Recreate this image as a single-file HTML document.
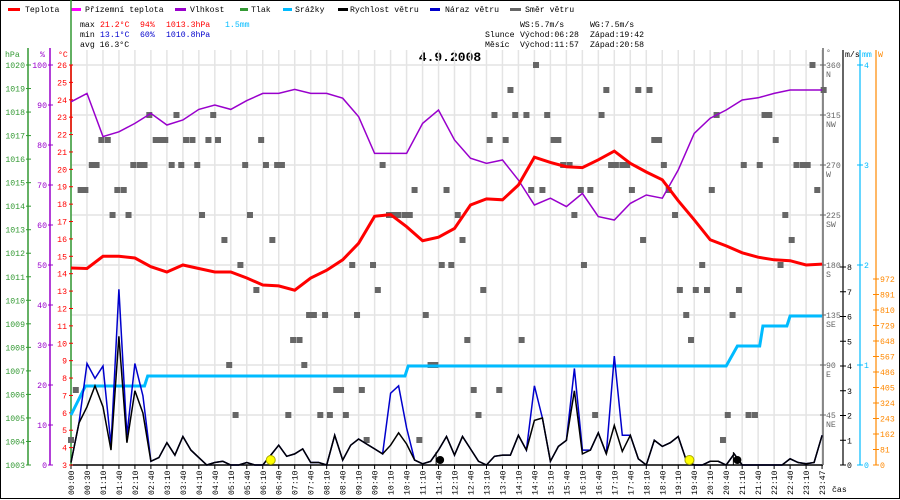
<!DOCTYPE html>
<html><head><meta charset="utf-8"><style>
html,body{margin:0;padding:0;background:#fff}
svg{display:block}
text{font-family:"Liberation Mono",monospace;font-size:8.2px}
</style></head><body>
<svg id="c" width="900" height="500" viewBox="0 0 900 500" xmlns="http://www.w3.org/2000/svg">
<rect x="0.5" y="0.5" width="899" height="498" fill="#fff" stroke="#000"/>
<g id="legend">
 <g><rect x="8" y="8" width="12" height="3" fill="#f00"/><text x="25" y="12">Teplota</text></g>
 <g><rect x="71" y="8" width="10" height="3" fill="#f0f"/><text x="85" y="12">Přízemní teplota</text></g>
 <g><rect x="175" y="8" width="11" height="3" fill="#90c"/><text x="190" y="12">Vlhkost</text></g>
 <g><rect x="240" y="8" width="8" height="3" fill="#393"/><text x="251" y="12">Tlak</text></g>
 <g><rect x="283" y="8" width="9" height="3" fill="#0bf"/><text x="295" y="12">Srážky</text></g>
 <g><rect x="338" y="8" width="10" height="3" fill="#000"/><text x="350" y="12">Rychlost větru</text></g>
 <g><rect x="430" y="8" width="10" height="3" fill="#00c"/><text x="445" y="12">Náraz větru</text></g>
 <g><rect x="510" y="8" width="11" height="3" fill="#666"/><text x="525" y="12">Směr větru</text></g>
</g>
<g>
 <text x="80" y="27">max</text><text x="100" y="27" fill="#f00">21.2°C</text><text x="140" y="27" fill="#f00">94%</text><text x="166" y="27" fill="#f00">1013.3hPa</text><text x="225" y="27" fill="#0bf">1.5mm</text>
 <text x="80" y="37">min</text><text x="100" y="37" fill="#00c">13.1°C</text><text x="140" y="37" fill="#00c">60%</text><text x="166" y="37" fill="#00c">1010.8hPa</text>
 <text x="80" y="47">avg 16.3°C</text>
</g>
<g>
 <text x="520" y="27">WS:5.7m/s</text><text x="590" y="27">WG:7.5m/s</text>
 <text x="485" y="37">Slunce</text><text x="520" y="37">Východ:06:28</text><text x="590" y="37">Západ:19:42</text>
 <text x="485" y="47">Měsíc</text><text x="520" y="47">Východ:11:57</text><text x="590" y="47">Západ:20:58</text>
</g>
<text x="450" y="61" text-anchor="middle" style="font-size:13px;font-weight:bold">4.9.2008</text>
<g id="grid"></g>
<g id="axes"></g>
<g id="series"></g>
</svg>
<script>
const xLabels=["00:00","00:30","01:10","01:40","02:10","02:40","03:10","03:40","04:10","04:40","05:10","05:40","06:10","06:40","07:10","07:40","08:10","08:40","09:10","09:40","10:10","10:40","11:10","11:40","12:10","12:40","13:10","13:40","14:10","14:40","15:10","15:40","16:10","16:40","17:10","17:40","18:10","18:40","19:10","19:40","20:10","20:40","21:10","21:40","22:10","22:40","23:10","23:47"];
const temperature=[14.33,14.3,15.0,15.0,14.9,14.4,14.1,14.5,14.3,14.1,14.1,13.75,13.35,13.3,13.05,13.75,14.2,14.8,15.75,17.3,17.4,16.7,15.9,16.1,16.6,17.95,18.3,18.25,19.1,20.7,20.4,20.15,20.1,20.55,21.05,20.35,19.85,19.4,18.2,17.1,15.95,15.6,15.2,14.95,14.8,14.75,14.5,14.55];
const humidity=[90.8,92.9,82.1,83.3,85.4,87.9,85,86.25,88.9,90,88.9,91.1,92.9,92.9,93.9,92.9,92.9,91.7,87.1,77.9,77.9,77.9,85.4,88.75,81.25,76.7,75.4,76.25,71.25,65,66.7,64.6,67.9,62.1,61.25,65.4,67.5,66.7,73.75,82.9,86.7,88.75,91.25,91.8,92.9,93.75,93.75,93.75];
const windSpeed=[0.1,1.7,2.35,3.2,2.35,0.6,5.2,0.9,3.0,2.1,0.15,0.3,0.9,0.4,1.15,0.6,0.3,0,0.1,0.15,0,0,0.1,0,0,0.4,0.8,0.35,0.45,0.65,0.1,0.1,0,1.2,0.2,0.8,1.05,0.85,0.65,0.45,0.8,1.3,0.85,0.2,0.05,0.15,0.6,1.15,0.4,1.15,0.65,0.15,0,0.35,0.4,0.4,1.2,0.6,1.8,1.9,0.15,0.75,1.0,3.0,0.45,0.6,1.3,0.45,1.6,0.55,1.2,0.25,0,1.0,0.75,0.9,1.15,0.2,0,0,0.15,0.15,0,0.45,0,0,0,0,0,0,0.25,0.1,0.05,0.1,1.2];
const windGust=[0.1,1.7,4.1,3.5,4.0,0.8,7.1,1.2,4.1,2.8,0.15,0.3,0.9,0.4,1.15,0.6,0.3,0,0.1,0.15,0,0,0.1,0,0,0.4,0.8,0.35,0.45,0.65,0.1,0.1,0,1.2,0.2,0.8,1.05,0.85,0.65,0.45,2.9,3.2,1.5,0.2,0.05,0.15,0.6,1.15,0.4,1.15,0.65,0.15,0,0.35,0.4,0.4,1.2,0.6,3.2,1.9,0.15,0.75,1.0,3.9,0.6,0.6,1.3,0.45,4.4,1.2,1.2,0.25,0,1.0,0.75,0.9,1.15,0.2,0,0,0.15,0.15,0,0.45,0,0,0,0,0,0,0.25,0.1,0.05,0.1,1.2];
const precipIdx=[0,0.9,4.6,4.8,20.9,21.1,41.0,41.7,43.1,43.3,44.8,45.0,47];
const precipMm=[0.5,0.79,0.79,0.89,0.89,0.99,0.99,1.19,1.19,1.39,1.39,1.49,1.49];
const dirIdx=[4.9,6.6,8.9,1.9,2.3,5.3,5.6,5.9,7.2,7.6,8.6,9.2,11.9,1.3,1.6,3.9,4.3,4.6,6.3,6.9,7.9,10.9,12.2,12.9,13.2,19.5,0.6,0.9,2.9,3.3,21.5,2.6,3.6,8.2,11.2,19.9,20.2,20.5,20.9,21.2,9.6,12.6,10.6,17.6,18.9,23.2,11.6,19.2,14.9,15.2,15.9,17.9,22.2,13.9,14.3,9.9,14.6,22.5,22.8,0.3,16.6,16.9,18.2,10.3,13.6,15.6,16.2,17.2,0.0,18.5,21.8,29.1,46.4,27.5,33.5,35.5,36.2,47.1,26.5,27.8,28.5,29.8,33.2,40.4,43.4,43.7,26.2,27.2,30.2,30.5,36.5,36.8,44.1,30.8,31.2,33.8,34.1,34.5,34.8,37.1,42.1,43.1,45.4,45.8,46.1,23.5,28.8,29.5,31.9,32.5,35.1,37.4,40.1,46.7,24.2,31.5,37.8,44.7,24.5,35.8,45.1,23.8,32.1,39.5,44.4,25.8,38.1,39.1,39.8,41.8,38.5,41.4,24.8,28.2,38.8,25.2,26.8,25.5,32.8,41.1,42.4,42.8,40.8];
const dirDeg=[315,315,315,292.5,292.5,292.5,292.5,292.5,292.5,292.5,292.5,292.5,292.5,270,270,270,270,270,270,270,270,270,270,270,270,270,247.5,247.5,247.5,247.5,247.5,225,225,225,225,225,225,225,225,225,202.5,202.5,180,180,180,180,157.5,157.5,135,135,135,135,135,112.5,112.5,90,90,90,90,67.5,67.5,67.5,67.5,45,45,45,45,45,22.5,22.5,22.5,360,360,337.5,337.5,337.5,337.5,337.5,315,315,315,315,315,315,315,315,292.5,292.5,292.5,292.5,292.5,292.5,292.5,270,270,270,270,270,270,270,270,270,270,270,270,247.5,247.5,247.5,247.5,247.5,247.5,247.5,247.5,247.5,225,225,225,225,202.5,202.5,202.5,180,180,180,180,157.5,157.5,157.5,157.5,157.5,135,135,112.5,112.5,112.5,67.5,67.5,45,45,45,45,45,22.5];
const sunIdx=[12.5,38.7];
const moonIdx=[23.1,41.7];
const hpaTicks=[1020,1019,1018,1017,1016,1015,1014,1013,1012,1011,1010,1009,1008,1007,1006,1005,1004,1003];
const pctTicks=[100,90,80,70,60,50,40,30,20,10,0];
const tempTicks=[26,25,24,23,22,21,20,19,18,17,16,15,14,13,12,11,10,9,8,7,6,5,4,3];
const dirTicks=[360,315,270,225,180,135,90,45];
const dirNames=["N","NW","W","SW","S","SE","E","NE"];
const msTicks=[0,1,2,3,4,5,6,7,8];
const mmTicks=[0,1,2,3,4];
const wTicks=[0,81,162,243,324,405,486,567,648,729,810,891,972];

const NS="http://www.w3.org/2000/svg";
const TOP=65,BOT=465,X0=71,STEP=15.98;
const xAt=i=>X0+i*STEP;
const yT=v=>TOP+(26-v)*(BOT-TOP)/23;
const yH=v=>BOT-v*4;
const yP=v=>TOP+(1020-v)*(BOT-TOP)/17;
const yDir=v=>BOT-v*200/180;
const yWs=v=>BOT-v*24.75;
const yMm=v=>BOT-v*100;
const yW=v=>BOT-v*186/972;
function mk(tag,attrs,parent,txt){const e=document.createElementNS(NS,tag);for(const k in attrs)e.setAttribute(k,attrs[k]);if(txt!==undefined)e.textContent=txt;parent.appendChild(e);return e;}
const grid=document.getElementById('grid'),axes=document.getElementById('axes'),series=document.getElementById('series');

dirTicks.forEach(d=>{const l=mk('line',{x1:X0,x2:823,y1:yDir(d),y2:yDir(d),stroke:'#e4e4e4','stroke-width':1.5},grid);

});
xLabels.forEach((s,i)=>{const x=xAt(i);
 const l=mk('line',{x1:x,x2:x,y1:50,y2:BOT,stroke:'#e4e4e4','stroke-width':1.5},grid);
 
 
 mk('line',{x1:x,x2:x,y1:BOT,y2:BOT+4,stroke:'#000'},axes);
 const t=mk('text',{x:0,y:0,transform:`translate(${x+3},495) rotate(-90)`},axes,s);
 
 });

mk('line',{x1:28,x2:28,y1:48,y2:BOT,stroke:'#393','stroke-width':1.5},axes);
mk('line',{x1:50,x2:50,y1:48,y2:BOT,stroke:'#90c','stroke-width':1.5},axes);
mk('line',{x1:71,x2:71,y1:0,y2:BOT,stroke:'#393','stroke-width':1.5},axes);
mk('line',{x1:71,x2:71,y1:TOP,y2:132,stroke:'#f00','stroke-width':1.5},axes);
mk('line',{x1:X0,x2:823,y1:BOT,y2:BOT,stroke:'#000','stroke-width':1.5},axes);
mk('text',{x:5,y:57,fill:'#393'},axes,'hPa');
mk('text',{x:40,y:57,fill:'#90c'},axes,'%');
mk('text',{x:58,y:57,fill:'#f00'},axes,'°C');
hpaTicks.forEach(v=>{const y=yP(v);mk('line',{x1:26,x2:31,y1:y,y2:y,stroke:'#393'},axes);
 const t=mk('text',{x:25,y:y+3,'text-anchor':'end',fill:'#393'},axes,v);
 
 });
pctTicks.forEach(v=>{const y=yH(v);mk('line',{x1:48,x2:53,y1:y,y2:y,stroke:'#90c'},axes);
 const t=mk('text',{x:47,y:y+3,'text-anchor':'end',fill:'#90c'},axes,v);
 
 });
tempTicks.forEach(v=>{const y=yT(v);mk('line',{x1:69,x2:73,y1:y,y2:y,stroke:'#f00'},axes);
 const t=mk('text',{x:67,y:y+3,'text-anchor':'end',fill:'#f00'},axes,v);
 
 });

mk('line',{x1:823,x2:823,y1:48,y2:BOT,stroke:'#666','stroke-width':1.5},axes);
mk('line',{x1:843,x2:843,y1:50,y2:BOT,stroke:'#000','stroke-width':1.2},axes);
mk('line',{x1:860,x2:860,y1:50,y2:BOT,stroke:'#0bf','stroke-width':1.2},axes);
mk('line',{x1:876,x2:876,y1:50,y2:BOT,stroke:'#f80','stroke-width':1.2},axes);
mk('text',{x:826,y:55,fill:'#666'},axes,'°');
mk('text',{x:845,y:57},axes,'m/s');
mk('text',{x:862,y:57,fill:'#0bf'},axes,'mm');
mk('text',{x:878,y:57,fill:'#f80'},axes,'W');
mk('text',{x:832,y:492},axes,'čas');
dirTicks.forEach((v,k)=>{const y=yDir(v);mk('line',{x1:820,x2:826,y1:y,y2:y,stroke:'#666'},axes);
 const t=mk('text',{x:826,y:y+3,fill:'#666'},axes,v);
 
 
 mk('text',{x:826,y:y+12,fill:'#666'},axes,dirNames[k]);});
msTicks.forEach(v=>{const y=yWs(v);mk('line',{x1:840,x2:846,y1:y,y2:y,stroke:'#000'},axes);
 const t=mk('text',{x:847,y:y+3},axes,v);
 
 });
mmTicks.forEach(v=>{const y=yMm(v);mk('line',{x1:857,x2:863,y1:y,y2:y,stroke:'#0bf'},axes);
 const t=mk('text',{x:864,y:y+3,fill:'#0bf'},axes,v);
 
 });
wTicks.forEach(v=>{const y=yW(v);mk('line',{x1:873,x2:879,y1:y,y2:y,stroke:'#f80'},axes);
 const t=mk('text',{x:880,y:y+3,fill:'#f80'},axes,v);
 
 });

dirIdx.forEach((d,k)=>{const r=mk('rect',{x:xAt(d)-3,y:yDir(dirDeg[k])-3,width:6,height:6,fill:'#666'},series);
 
 });
const pts=(arr,yf,step)=>arr.map((v,i)=>`${xAt(i*step).toFixed(1)},${yf(v).toFixed(1)}`).join(' ');
let p=mk('polyline',{points:precipIdx.map((t,i)=>`${xAt(t).toFixed(1)},${yMm(precipMm[i]).toFixed(1)}`).join(' '),fill:'none',stroke:'#0bf','stroke-width':3},series);


p=mk('polyline',{points:pts(windGust,yWs,0.5),fill:'none',stroke:'#00c','stroke-width':1.5},series);


p=mk('polyline',{points:pts(windSpeed,yWs,0.5),fill:'none',stroke:'#000','stroke-width':1.5},series);


p=mk('polyline',{points:pts(humidity,yH,1),fill:'none',stroke:'#90c','stroke-width':1.5},series);


p=mk('polyline',{points:pts(temperature,yT,1),fill:'none',stroke:'#f00','stroke-width':3},series);


sunIdx.forEach(d=>{const c=mk('circle',{cx:xAt(d),cy:460,r:4.5,fill:'#ff0',stroke:'#aa0'},series);
 
 });
moonIdx.forEach(d=>{mk('line',{x1:xAt(d)-4,x2:xAt(d)-4,y1:452,y2:465,stroke:'#000'},series);
 const c=mk('circle',{cx:xAt(d),cy:460,r:4,fill:'#000'},series);
 
 });
</script>
</body></html>
